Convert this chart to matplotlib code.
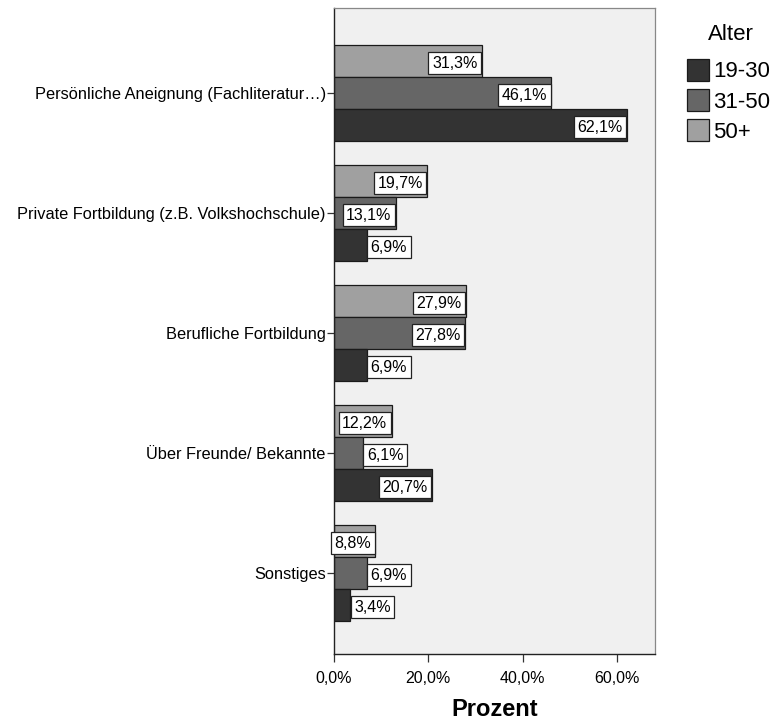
import matplotlib
matplotlib.use("Agg")
import matplotlib.pyplot as plt
from matplotlib.patches import Patch
import numpy as np

plt.rcParams['font.family'] = ['Liberation Sans', 'DejaVu Sans']

categories = [
    "Persönliche Aneignung (Fachliteratur…)",
    "Private Fortbildung (z.B. Volkshochschule)",
    "Berufliche Fortbildung",
    "Über Freunde/ Bekannte",
    "Sonstiges",
]
groups = ["19-30", "31-50", "50+"]
values_19_30 = [62.1, 6.9, 6.9, 20.7, 3.4]
values_31_50 = [46.1, 13.1, 27.8, 6.1, 6.9]
values_50p = [31.3, 19.7, 27.9, 12.2, 8.8]
colors = ["#333333", "#666666", "#a0a0a0"]
xticks = [0, 20, 40, 60]

fig = plt.figure(figsize=(7.74, 7.2), dpi=100)
ax = fig.add_axes([334 / 774, 1 - 654 / 720, 321 / 774, 646 / 720])
ax.set_facecolor("#f0f0f0")

y = np.arange(len(categories))
h = 32 / 120
series = [values_50p, values_31_50, values_19_30]
series_colors = [colors[2], colors[1], colors[0]]
offsets = [-h, 0, h]

box = dict(boxstyle="square,pad=0.22", fc="white", ec="#222222", lw=0.9)
pad_pt = 0.22 * 11.5

for vals, col, off in zip(series, series_colors, offsets):
    bars = ax.barh(y + off, vals, height=h, color=col, edgecolor="#1a1a1a",
                   linewidth=0.9, zorder=2)
    for b, v in zip(bars, vals):
        txt = f"{v:.1f}%".replace(".", ",")
        yc = b.get_y() + b.get_height() / 2
        if v >= 8:
            ax.annotate(txt, (v, yc), xytext=(-pad_pt - 0.5, -1.5),
                        textcoords="offset points", ha="right", va="center",
                        fontsize=11.5, bbox=box, zorder=3)
        else:
            ax.annotate(txt, (v, yc), xytext=(pad_pt + 0.5, -1.5),
                        textcoords="offset points", ha="left", va="center",
                        fontsize=11.5, bbox=box, zorder=3)

ax.set_xlim(0, 68.1)
ax.set_ylim(4.675, -0.708)
ax.set_yticks(y)
ax.set_yticklabels(categories, fontsize=11.8)
ax.set_xticks(xticks)
ax.set_xticklabels([f"{t:.1f}%".replace(".", ",") for t in xticks], fontsize=11.5)
ax.tick_params(axis="y", length=5, width=0.9, color="#333333", pad=1)
ax.tick_params(axis="x", length=6, width=0.9, color="#333333", pad=6)
for s in ["top", "right"]:
    ax.spines[s].set_color("#888888")
    ax.spines[s].set_linewidth(0.9)
for s in ["left", "bottom"]:
    ax.spines[s].set_color("#222222")
    ax.spines[s].set_linewidth(1.0)

ax.set_xlabel("Prozent", fontsize=17, fontweight="bold", labelpad=9)

# Legend: title as separate text, entries below it
fig.text(731 / 774, 1 - 34 / 720, "Alter", fontsize=16, ha="center", va="center")
handles = [Patch(facecolor=c, edgecolor="#1a1a1a", linewidth=0.9) for c in colors]
leg = fig.legend(handles, groups, loc="upper left",
                 bbox_to_anchor=(687 / 774, 1 - 59 / 720), frameon=False,
                 fontsize=16, handlelength=0.99, handleheight=1.14,
                 handletextpad=0.2, labelspacing=0.3, borderpad=0,
                 borderaxespad=0)

fig.savefig("out.png", dpi=100)
